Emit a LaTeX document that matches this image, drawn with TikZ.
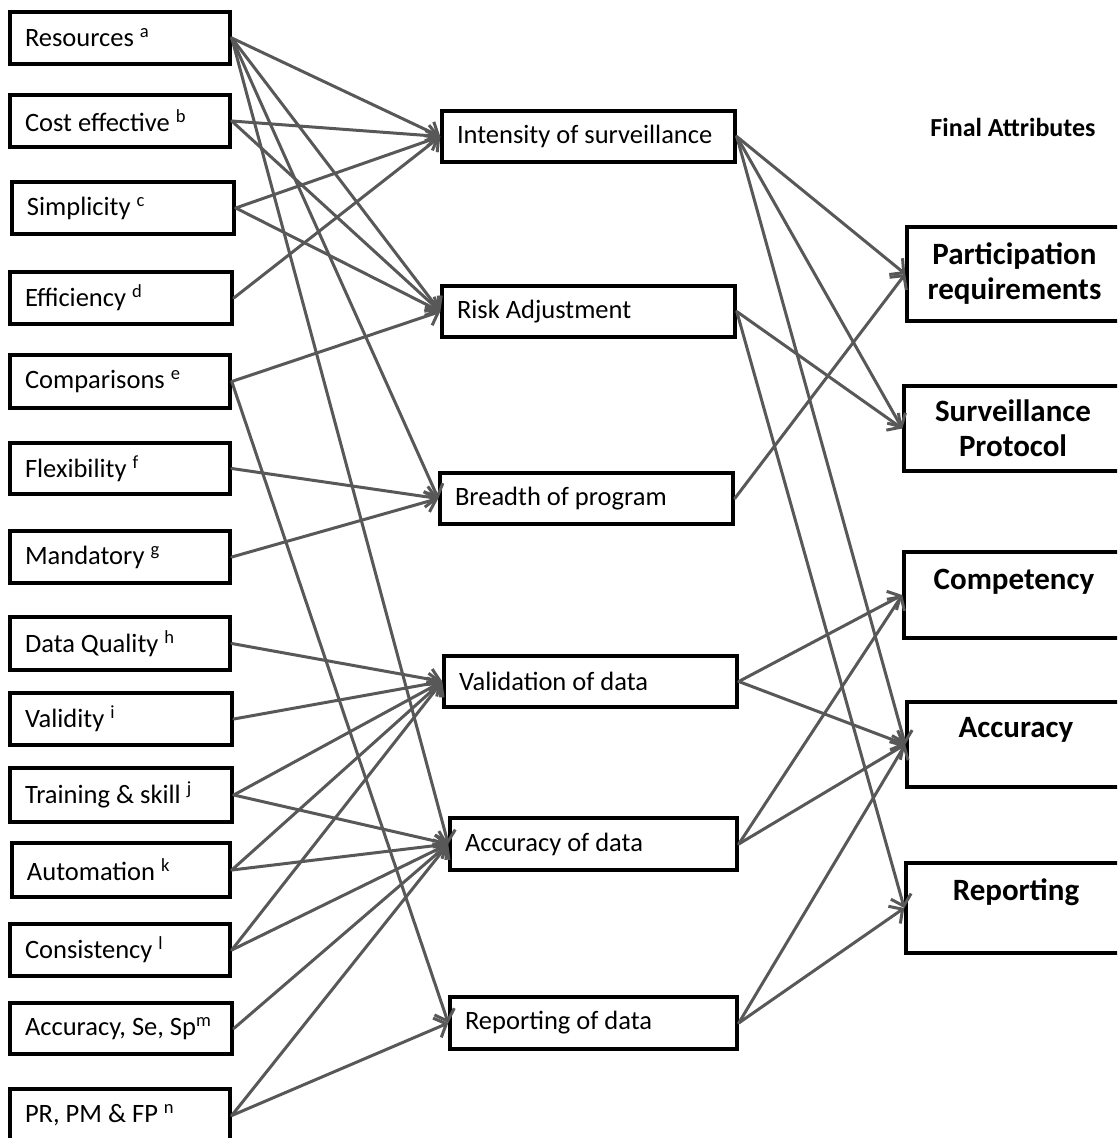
\documentclass[tikz,border=0pt]{standalone}
\usepackage{fontspec}
\setmainfont{Carlito}
\usetikzlibrary{arrows.meta}
\definecolor{conngray}{RGB}{88,88,88}
\tikzset{
  box/.style={draw=black, line width=3.5pt, inner xsep=15pt, inner ysep=0pt,
    font=\fontsize{26.5}{30}\selectfont, align=flush left},
  rbox/.style={draw=black, line width=3.5pt, inner xsep=15pt, inner ysep=0pt,
    font=\fontsize{31}{35}\selectfont\bfseries, align=flush center},
  rtext/.style={font=\fontsize{31}{35}\selectfont\bfseries, inner sep=0pt},
  conn/.style={draw=conngray, line width=3pt, line cap=round,
    -{Straight Barb[length=10pt,width=21pt,line width=3pt]}},
}
\newcommand\mybox[7]{%
  \pgfmathsetmacro\bw{#4-#2}\pgfmathsetmacro\bh{#5-#3}\pgfmathsetmacro\tw{#4-#2-30}%
  \node[#6, minimum width=\bw pt, minimum height=\bh pt, text width=\tw pt] (#1)
    at ({(#2+#4)/2},{(#3+#5)/2}) {#7};}
\begin{document}
\begin{tikzpicture}[x=1pt,y=-1pt]
\useasboundingbox (0,0) rectangle (1117,1138);
\clip (0,0) rectangle (1117,1138);
% left column
\mybox{res}{10}{12}{230}{64}{box}{Resources \textsuperscript{a}}
\mybox{cost}{10}{95}{230}{147}{box}{Cost effective \textsuperscript{b}}
\mybox{simp}{12}{182}{234}{234}{box}{Simplicity \textsuperscript{c}}
\mybox{eff}{10}{272}{232}{324}{box}{Efficiency \textsuperscript{d}}
\mybox{cmp}{10}{355}{230}{408}{box}{Comparisons \textsuperscript{e}}
\mybox{flex}{10}{443}{230}{494}{box}{Flexibility \textsuperscript{f}}
\mybox{mand}{10}{531}{230}{583}{box}{Mandatory \textsuperscript{g}}
\mybox{dq}{10}{617}{230}{670}{box}{Data Quality \textsuperscript{h}}
\mybox{vali}{10}{693}{232}{745}{box}{Validity \textsuperscript{i}}
\mybox{train}{10}{768}{232}{822}{box}{Training \& skill \textsuperscript{j}}
\mybox{auto}{12}{843}{230}{897}{box}{Automation \textsuperscript{k}}
\mybox{cons}{10}{924}{230}{976}{box}{Consistency \textsuperscript{l}}
\mybox{ase}{10}{1003}{232}{1054}{box}{\mbox{Accuracy, Se, Sp\textsuperscript{m}}}
\mybox{pr}{10}{1089}{230}{1142}{box}{PR, PM \& FP \textsuperscript{n}}
% middle column
\mybox{int}{442}{111}{735}{162}{box}{Intensity of surveillance}
\mybox{risk}{442}{286}{735}{337}{box}{Risk Adjustment}
\mybox{bre}{440}{473}{733}{524}{box}{Breadth of program}
\mybox{vald}{444}{656}{737}{707}{box}{Validation of data}
\mybox{accd}{450}{818}{737}{870}{box}{Accuracy of data}
\mybox{repd}{450}{997}{737}{1049}{box}{Reporting of data}
% right column
\node[font=\fontsize{26}{30}\selectfont\bfseries] (fa) at (1013,127) {Final Attributes};
\mybox{part}{907}{227}{1122}{321}{rbox}{Participation\\requirements}
\mybox{surv}{904}{386}{1122}{471}{rbox}{Surveillance\\Protocol}
\mybox{cpt}{904}{552}{1122}{638}{rbox}{}
\mybox{acc}{907}{702}{1122}{787}{rbox}{}
\mybox{rep}{906}{863}{1122}{953}{rbox}{}
\node[rtext] (cptt) at (1014,582) {Competency};
\node[rtext] (acct) at (1016,730) {Accuracy};
\node[rtext] (rept) at (1016,892) {Reporting};
% connectors left -> middle
\draw[conn] (res.east) -- (int.west);
\draw[conn] (res.east) -- (risk.west);
\draw[conn] (res.east) -- (bre.west);
\draw[conn] (res.east) -- (accd.west);
\draw[conn] (cost.east) -- (int.west);
\draw[conn] (cost.east) -- (risk.west);
\draw[conn] (simp.east) -- (int.west);
\draw[conn] (simp.east) -- (risk.west);
\draw[conn] (eff.east) -- (int.west);
\draw[conn] (cmp.east) -- (risk.west);
\draw[conn] (cmp.east) -- (repd.west);
\draw[conn] (flex.east) -- (bre.west);
\draw[conn] (mand.east) -- (bre.west);
\draw[conn] (dq.east) -- (vald.west);
\draw[conn] (vali.east) -- (vald.west);
\draw[conn] (train.east) -- (vald.west);
\draw[conn] (train.east) -- (accd.west);
\draw[conn] (auto.east) -- (vald.west);
\draw[conn] (auto.east) -- (accd.west);
\draw[conn] (cons.east) -- (vald.west);
\draw[conn] (cons.east) -- (accd.west);
\draw[conn] (ase.east) -- (accd.west);
\draw[conn] (pr.east) -- (accd.west);
\draw[conn] (pr.east) -- (repd.west);
% connectors middle -> right
\draw[conn] (int.east) -- (part.west);
\draw[conn] (int.east) -- (surv.west);
\draw[conn] (int.east) -- (acc.west);
\draw[conn] (risk.east) -- (surv.west);
\draw[conn] (risk.east) -- (rep.west);
\draw[conn] (bre.east) -- (part.west);
\draw[conn] (vald.east) -- (cpt.west);
\draw[conn] (vald.east) -- (acc.west);
\draw[conn] (accd.east) -- (cpt.west);
\draw[conn] (accd.east) -- (acc.west);
\draw[conn] (repd.east) -- (acc.west);
\draw[conn] (repd.east) -- (rep.west);
\end{tikzpicture}
\end{document}
